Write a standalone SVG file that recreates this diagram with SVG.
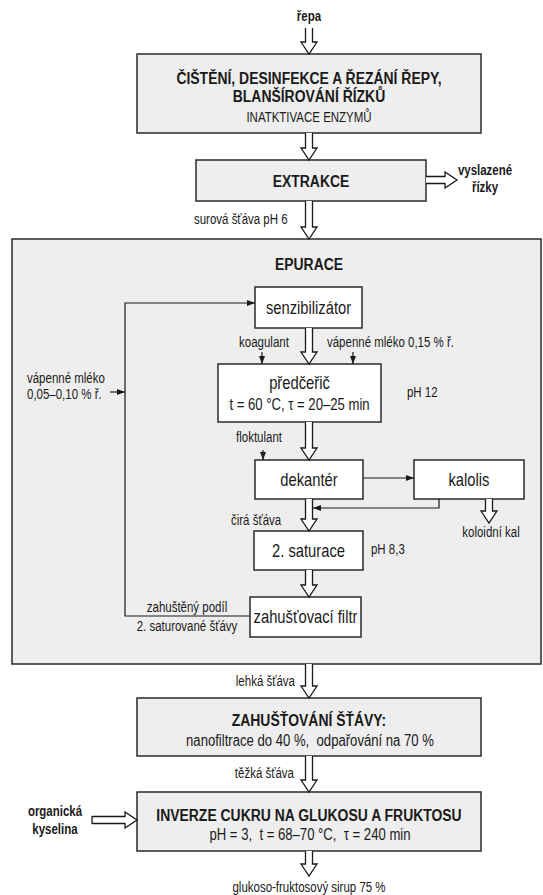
<svg xmlns="http://www.w3.org/2000/svg" width="543" height="895" viewBox="0 0 543 895">
<style>
text{font-family:"Liberation Sans",Arial,sans-serif;fill:#1a1a1a;transform:scale(0.82,1)}
.gbox{fill:#eeeeee;stroke:#2a2a2a;stroke-width:1.5}
.wbox{fill:#ffffff;stroke:#2a2a2a;stroke-width:1.5}
.hol{fill:#ffffff;stroke:#1a1a1a;stroke-width:1.3;stroke-linejoin:miter}
.ln{fill:none;stroke:#1a1a1a;stroke-width:1.2}
.t17b{font-size:17px;font-weight:bold;text-anchor:middle}
.t16{font-size:16px;text-anchor:middle}
.t18{font-size:18px;text-anchor:middle}
.s14{font-size:14px}
.s14b{font-size:14px;font-weight:bold;text-anchor:middle}
.mid{text-anchor:middle}
.end{text-anchor:end}
</style>
<defs>
<marker id="ah" viewBox="0 0 8 6" refX="8" refY="3" markerWidth="8" markerHeight="6" markerUnits="userSpaceOnUse" orient="auto">
<path d="M0,0 L8,3 L0,6 Z" fill="#1a1a1a"/>
</marker>
</defs>

<g id="epurace">
<rect class="gbox" x="12" y="239" width="529" height="425"/>
<text class="t17b" x="376.83" y="270">EPURACE</text>
</g>

<g id="cisteni">
<rect class="gbox" x="137" y="54" width="344" height="79"/>
<text class="t17b" x="376.83" y="84">ČIŠTĚNÍ, DESINFEKCE A ŘEZÁNÍ ŘEPY,</text>
<text class="t17b" x="376.83" y="102">BLANŠÍROVÁNÍ ŘÍZKŮ</text>
<text class="mid" x="376.83" y="122" style="font-size:14px">INATKTIVACE ENZYMŮ</text>
</g>

<g id="extrakce">
<rect class="gbox" x="196" y="160" width="230" height="41"/>
<text class="t17b" x="379.27" y="187">EXTRAKCE</text>
</g>

<g id="senzibilizator">
<rect class="wbox" x="255" y="287" width="107" height="41"/>
<text class="t18" x="376.22" y="314">senzibilizátor</text>
</g>

<g id="predcerič">
<rect class="wbox" x="218" y="364" width="163" height="58"/>
<text class="t18" x="365.24" y="389">předčeřič</text>
<text class="t16" x="365.24" y="410">t = 60 °C, τ = 20–25 min</text>
</g>

<g id="dekanter">
<rect class="wbox" x="255" y="460" width="108" height="39"/>
<text class="t18" x="376.83" y="486">dekantér</text>
</g>

<g id="kalolis">
<rect class="wbox" x="414" y="460" width="110" height="39"/>
<text class="t18" x="571.95" y="486">kalolis</text>
</g>

<g id="saturace">
<rect class="wbox" x="254" y="531" width="109" height="39"/>
<text class="t18" x="376.22" y="557">2. saturace</text>
</g>

<g id="filtr">
<rect class="wbox" x="250" y="597" width="111" height="40"/>
<text class="t18" x="372.56" y="623">zahušťovací filtr</text>
</g>

<g id="zahustovani">
<rect class="gbox" x="137" y="698" width="344" height="58"/>
<text class="t17b" x="376.83" y="726">ZAHUŠŤOVÁNÍ ŠŤÁVY:</text>
<text class="t16" x="378.05" y="746">nanofiltrace do 40 %,&#160; odpařování na 70 %</text>
</g>

<g id="inverze">
<rect class="gbox" x="137" y="792" width="344" height="59"/>
<text class="t17b" x="376.83" y="821">INVERZE CUKRU NA GLUKOSU A FRUKTOSU</text>
<text class="t16" x="378.05" y="840">pH = 3,&#160; t = 68–70 °C,&#160; τ = 240 min</text>
</g>

<g id="connectors">
<path class="hol" d="M305.5,28 V42 H301 L309,54 L317,42 H312.5 V28"/>
<path class="hol" d="M305.5,133 V148 H301 L309,160 L317,148 H312.5 V133"/>
<path class="hol" d="M305.5,201 V227 H301 L309,239 L317,227 H312.5 V201"/>
<path class="hol" d="M305.5,328 V352 H301 L309,364 L317,352 H312.5 V328"/>
<path class="hol" d="M305.5,422 V448 H301 L309,460 L317,448 H312.5 V422"/>
<path class="hol" d="M305.5,499 V519 H301 L309,531 L317,519 H312.5 V499"/>
<path class="hol" d="M305.5,570 V585 H301 L309,597 L317,585 H312.5 V570"/>
<path class="hol" d="M305.5,664 V686 H301 L309,698 L317,686 H312.5 V664"/>
<path class="hol" d="M305.5,756 V780 H301 L309,792 L317,780 H312.5 V756"/>
<path class="hol" d="M305.5,851 V864 H301 L309,876 L317,864 H312.5 V851"/>
<path class="hol" d="M485.5,499 V511 H481 L489,523 L497,511 H492.5 V499"/>
<path class="hol" d="M426,176.5 H445 V172 L457,180 L445,188 V183.5 H426"/>
<path class="hol" d="M92,816.5 H125 V812 L137,820 L125,828 V823.5 H92 Z"/>
<path class="ln" d="M250,616 H125 V303 H255" marker-end="url(#ah)"/>
<path class="ln" d="M110,392 H125" marker-end="url(#ah)"/>
<path class="ln" d="M262,352 V364" marker-end="url(#ah)"/>
<path class="ln" d="M353,352 V364" marker-end="url(#ah)"/>
<path class="ln" d="M263,450 V460" marker-end="url(#ah)"/>
<path class="ln" d="M363,478 H414" marker-end="url(#ah)"/>
<path class="ln" d="M439,499 V508 H313" marker-end="url(#ah)"/>
</g>

<g id="labels">
<text class="s14b" x="376.83" y="21">řepa</text>
<text class="s14b" x="591.46" y="175">vyslazené</text>
<text class="s14b" x="591.46" y="192">řízky</text>
<text class="s14" x="236.59" y="224">surová šťáva pH 6</text>
<text class="s14 mid" x="321.95" y="347">koagulant</text>
<text class="s14" x="398.78" y="347">vápenné mléko 0,15 % ř.</text>
<text class="s14" x="32.93" y="383">vápenné mléko</text>
<text class="s14" x="32.93" y="399">0,05–0,10 % ř.</text>
<text class="s14" x="496.34" y="397">pH 12</text>
<text class="s14 mid" x="315.85" y="442">floktulant</text>
<text class="s14" x="281.71" y="525">čirá šťáva</text>
<text class="s14 mid" x="598.78" y="537">koloidní kal</text>
<text class="s14" x="452.44" y="554">pH 8,3</text>
<text class="s14 mid" x="228.05" y="612">zahuštěný podíl</text>
<text class="s14 mid" x="228.05" y="631">2. saturované šťávy</text>
<text class="s14 end" x="359.76" y="686">lehká šťáva</text>
<text class="s14 end" x="358.54" y="778">těžká šťáva</text>
<text class="s14b" x="67.07" y="816">organická</text>
<text class="s14b" x="67.07" y="834">kyselina</text>
<text class="s14 mid" x="376.83" y="892">glukoso-fruktosový sirup 75 %</text>
</g>
</svg>
